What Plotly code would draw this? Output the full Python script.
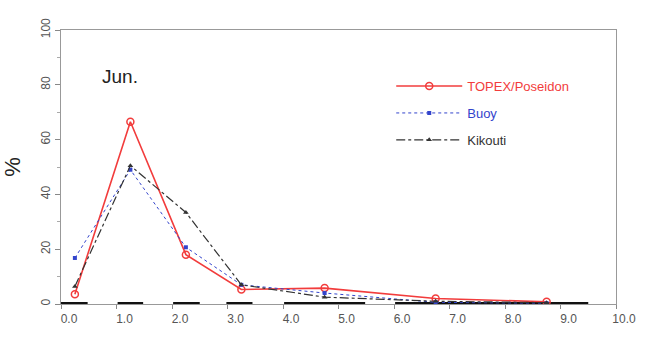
import plotly.graph_objects as go

# Data
x_bins = [0.25, 1.25, 2.25, 3.25, 4.75, 6.75, 8.75]
topex = [3.6, 66.5, 18.0, 5.3, 5.8, 2.0, 0.8]
buoy = [16.8, 49.0, 20.7, 7.0, 4.0, 0.6, 0.3]
kikouti = [6.4, 50.5, 33.4, 7.0, 2.5, 1.0, 0.5]
bar_segments = [[0.0, 0.48], [1.02, 1.48], [2.02, 2.5], [2.98, 3.45], [4.02, 5.48], [6.02, 9.5]]
x_ticks = [0, 1, 2, 3, 4, 5, 6, 7, 8, 9, 10]
x_ticklabels = ["0.0", "1.0", "2.0", "3.0", "4.0", "5.0", "6.0", "7.0", "8.0", "9.0", "10.0"]
y_ticks = [0, 20, 40, 60, 80, 100]

RED = "#f23c3c"
BLUE = "#3344cc"
BLACK = "#333333"

fig = go.Figure()

# thick black segments along the x axis
seg_x, seg_y = [], []
for a, b in bar_segments:
    seg_x += [a, b, None]
    seg_y += [0, 0, None]
fig.add_trace(go.Scatter(x=seg_x, y=seg_y, mode="lines",
                         line=dict(color="#111111", width=4),
                         showlegend=False, cliponaxis=False, hoverinfo="skip"))

fig.add_trace(go.Scatter(
    x=x_bins, y=topex, mode="lines+markers", legendgroup="a",
    name="<span style='color:%s'>TOPEX/Poseidon</span>" % RED,
    line=dict(color=RED, width=1.6),
    marker=dict(symbol="circle-open", size=7, color=RED, line=dict(width=1.5)),
))
fig.add_trace(go.Scatter(
    x=x_bins, y=buoy, mode="lines+markers", legendgroup="b",
    name="<span style='color:%s'>Buoy</span>" % BLUE,
    line=dict(color=BLUE, width=1, dash="dot"),
    marker=dict(symbol="square", size=4, color=BLUE),
))
fig.add_trace(go.Scatter(
    x=x_bins, y=kikouti, mode="lines+markers", legendgroup="c",
    name="<span style='color:%s'>Kikouti</span>" % BLACK,
    line=dict(color=BLACK, width=1.2, dash="dashdot"),
    marker=dict(symbol="triangle-up", size=5, color=BLACK),
))

fig.add_annotation(x=0.07, y=0.83, xref="paper", yref="paper", text="Jun.",
                   showarrow=False, xanchor="left", yanchor="middle",
                   font=dict(size=19, color="#222222"))

fig.update_layout(
    width=648, height=338,
    margin=dict(l=60, r=26, t=30, b=28),
    paper_bgcolor="white", plot_bgcolor="white",
    font=dict(family="Liberation Sans, Arial, sans-serif", color="#444444"),
    legend=dict(x=0.595, y=0.85, xanchor="left", yanchor="top",
                font=dict(size=13), bgcolor="rgba(0,0,0,0)",
                traceorder="grouped", tracegroupgap=7, itemwidth=66),
    xaxis=dict(range=[0, 10], tickmode="array", tickvals=x_ticks, ticktext=x_ticklabels,
               ticks="outside", ticklen=4, tickcolor="#888888",
               ticklabelshift=8, tickfont=dict(size=12, color="#555555"),
               showline=True, linecolor="#999999", linewidth=1, mirror=True,
               showgrid=False, zeroline=False),
    yaxis=dict(range=[0, 100], tickmode="array", tickvals=y_ticks,
               ticks="outside", ticklen=5, tickcolor="#888888", tickangle=-90,
               tickfont=dict(size=12, color="#555555"),
               minor=dict(dtick=10, ticks="outside", ticklen=3, tickcolor="#aaaaaa"),
               showline=True, linecolor="#999999", linewidth=1, mirror=True,
               showgrid=False, zeroline=False,
               title=dict(text="%", font=dict(size=22, color="#222222"), standoff=12)),
)

fig.write_html("out.html")
